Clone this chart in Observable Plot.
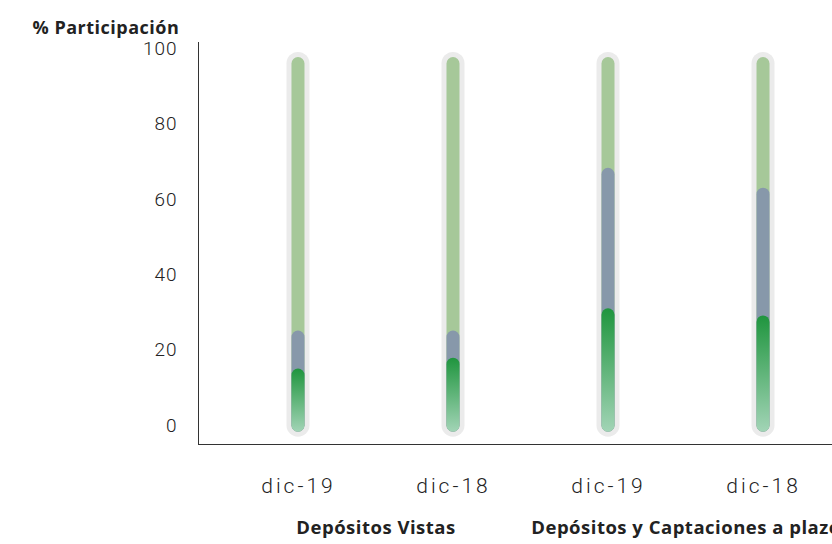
<!DOCTYPE html>
<html>
<head>
<meta charset="utf-8">
<script src="https://cdn.jsdelivr.net/npm/d3@7"></script>
<script src="https://cdn.jsdelivr.net/npm/@observablehq/plot@0.6"></script>
<style>
  html, body { margin: 0; padding: 0; background: #fff; }
  #chart svg { display: block; }
</style>
</head>
<body>
<div id="chart"></div>
<script>
// ---- data ----
const groups = ["Depósitos Vistas", "Depósitos y Captaciones a plazo"];
const periods = ["dic-19", "dic-18", "dic-19", "dic-18"];
const groupIndex = [0, 0, 1, 1];
// cumulative tops of each coloured segment (% participación)
const verde = [13.3, 16.2, 29.3, 27.4];
const azul = [23.4, 23.4, 66.6, 61.3];
const total = [96, 96, 96, 96];
const yTicks = [0, 20, 40, 60, 80, 100];

const bars = periods.map((p, i) => ({i, period: p, group: groupIndex[i], verde: verde[i], azul: azul[i], total: total[i]}));
const groupLabels = groups.map((g, k) => {
  const idx = bars.filter(b => b.group === k).map(b => b.i);
  return {label: g, x: d3.mean(idx)};
});

const defs = () => {
  const ns = "http://www.w3.org/2000/svg";
  const d = document.createElementNS(ns, "defs");
  const lg = document.createElementNS(ns, "linearGradient");
  lg.setAttribute("id", "gradVerde");
  lg.setAttribute("x1", "0"); lg.setAttribute("y1", "0");
  lg.setAttribute("x2", "0"); lg.setAttribute("y2", "1");
  [["0%", "#1f953e"], ["100%", "#a2d4b6"]].forEach(([o, c]) => {
    const s = document.createElementNS(ns, "stop");
    s.setAttribute("offset", o); s.setAttribute("stop-color", c);
    lg.appendChild(s);
  });
  d.appendChild(lg);
  return d;
};

const boldFont = "'Open Sans', Roboto, sans-serif";
const lightFont = "Roboto, 'Open Sans', sans-serif";

const chart = Plot.plot({
  width: 832,
  height: 544,
  marginLeft: 198,
  marginRight: -31,
  marginTop: 42,
  marginBottom: 100,
  style: {fontFamily: boldFont, background: "#fff", color: "#333", overflow: "visible"},
  x: {
    type: "linear",
    domain: [-0.645, 3.645],
    ticks: bars.map(b => b.i),
    tickFormat: i => periods[i],
    tickSize: 0,
    tickPadding: 34,
    line: true,
    label: null
  },
  y: {
    domain: [-5, 101.7],
    ticks: yTicks,
    tickSize: 0,
    tickPadding: 21,
    line: true,
    label: null
  },
  marks: [
    defs,
    Plot.rect(bars, {x1: d => d.i - 0.5, x2: d => d.i + 0.5, y1: 0, y2: "total",
      insetLeft: 66, insetRight: 66, insetTop: -11.5, insetBottom: -11.5, rx: 11.5, fill: "#ebebeb"}),
    Plot.rect(bars, {x1: d => d.i - 0.5, x2: d => d.i + 0.5, y1: 0, y2: "total",
      insetLeft: 71, insetRight: 71, insetTop: -6.5, insetBottom: -6.5, rx: 6.5, fill: "#a6c899"}),
    Plot.rect(bars, {x1: d => d.i - 0.5, x2: d => d.i + 0.5, y1: 0, y2: "azul",
      insetLeft: 71, insetRight: 71, insetTop: -6.5, insetBottom: -6.5, rx: 6.5, fill: "#8798aa"}),
    Plot.rect(bars, {x1: d => d.i - 0.5, x2: d => d.i + 0.5, y1: 0, y2: "verde",
      insetLeft: 71, insetRight: 71, insetTop: -6.5, insetBottom: -6.5, rx: 6.5, fill: "url(#gradVerde)"}),
    Plot.text(groupLabels, {x: "x", text: "label", frameAnchor: "bottom", dy: 89,
      fontWeight: "bold", fontSize: 18.5, fill: "#222"}),
    Plot.text(["% Participación"], {frameAnchor: "top-left", dx: -166, dy: -21,
      textAnchor: "start", fontWeight: "bold", fontSize: 18, fill: "#222"})
  ]
});

d3.select(chart).selectAll("g[aria-label='text']").style("letter-spacing", "0.5px");
d3.select(chart).selectAll("g[aria-label='x-axis tick label']")
  .attr("font-family", lightFont).attr("font-size", 21).attr("font-weight", 300).attr("fill", "#222").style("letter-spacing", "3px");
d3.select(chart).selectAll("g[aria-label='y-axis tick label']")
  .attr("font-family", lightFont).attr("font-size", 19).attr("font-weight", 300).attr("fill", "#222").style("letter-spacing", "1px");
d3.select(chart).selectAll("g[aria-label='x-axis line'], g[aria-label='y-axis line']").attr("stroke", "#222");
document.getElementById("chart").appendChild(chart);
</script>
</body>
</html>
